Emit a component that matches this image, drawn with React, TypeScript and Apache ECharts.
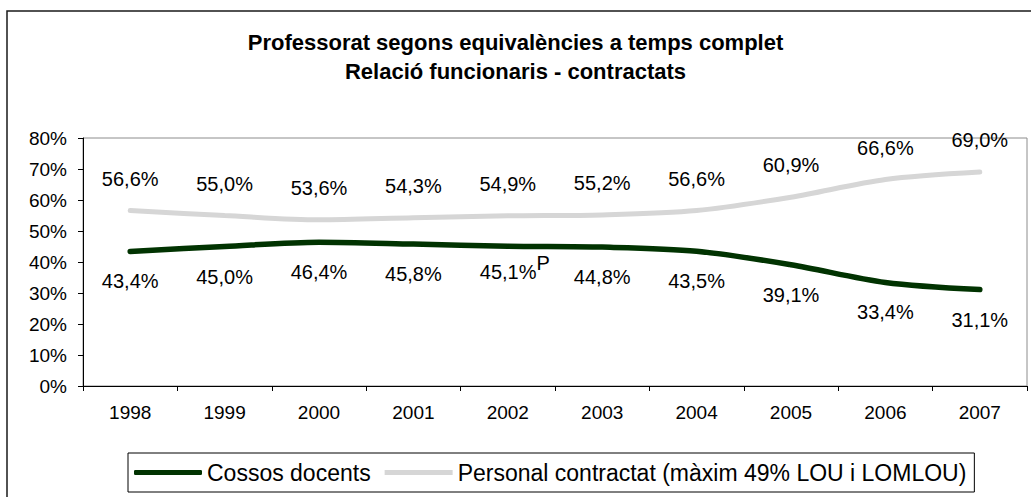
import React, { useEffect, useRef } from "react";
import * as echarts from "echarts";

const years = ["1998", "1999", "2000", "2001", "2002", "2003", "2004", "2005", "2006", "2007"];
const cossosDocents = [43.4, 45.0, 46.4, 45.8, 45.1, 44.8, 43.5, 39.1, 33.4, 31.1];
const personalContractat = [56.6, 55.0, 53.6, 54.3, 54.9, 55.2, 56.6, 60.9, 66.6, 69.0];
const yTicks = [0, 10, 20, 30, 40, 50, 60, 70, 80];
const titleLines = ["Professorat segons equivalències a temps complet", "Relació funcionaris - contractats"];
const seriesNames = ["Cossos docents", "Personal contractat (màxim 49% LOU i LOMLOU)"];
const provisionalIndex = 4; // 2002 marked "P"

const FONT = "'Liberation Sans', Arial, sans-serif";
const fmt = (v: number) => v.toFixed(1).replace(".", ",") + "%";
const GREEN = "#013301";
const GRAY = "#d6d6d6";

export default function App() {
  const ref = useRef<HTMLDivElement>(null);
  useEffect(() => {
    if (!ref.current) return;
    const chart = echarts.init(ref.current, undefined, { renderer: "svg" });
    chart.setOption({
      animation: false,
      backgroundColor: "#ffffff",
      textStyle: { fontFamily: FONT },
      title: {
        text: titleLines.join("\n"),
        left: "center",
        top: 23,
        textStyle: { fontFamily: FONT, fontSize: 22, fontWeight: "bold", color: "#000", lineHeight: 29 },
      },
      graphic: [
        {
          type: "rect",
          shape: { x: 7, y: 11, width: 1040, height: 500 },
          style: { fill: "none", stroke: "#1a1a1a", lineWidth: 1.5 },
          silent: true,
          z: -1,
        },
      ],
      legend: {
        left: 128,
        top: 453,
        orient: "horizontal",
        borderColor: "#000",
        borderWidth: 1,
        padding: [8, 8, 8, 6],
        itemGap: 14,
        itemWidth: 68,
        itemHeight: 5,
        textStyle: { fontFamily: FONT, fontSize: 23, color: "#000" },
        data: [
          { name: seriesNames[0], icon: "roundRect", itemStyle: { color: GREEN } },
          { name: seriesNames[1], icon: "rect", itemStyle: { color: GRAY } },
        ],
      },
      grid: {
        left: 83,
        top: 138,
        right: 4,
        bottom: 111,
        show: true,
        borderColor: "#8c8c8c",
        borderWidth: 1,
      },
      xAxis: {
        type: "category",
        data: years,
        boundaryGap: true,
        axisLine: { lineStyle: { color: "#000", width: 1 } },
        axisTick: { show: true, alignWithLabel: false, length: 5, lineStyle: { color: "#000" } },
        axisLabel: { fontFamily: FONT, fontSize: 19, color: "#000", margin: 17 },
        splitLine: { show: false },
      },
      yAxis: {
        type: "value",
        min: 0,
        max: 80,
        interval: 10,
        axisLine: { show: true, lineStyle: { color: "#000", width: 1 } },
        axisTick: { show: true, length: 5, lineStyle: { color: "#000" } },
        axisLabel: {
          fontFamily: FONT,
          fontSize: 19,
          color: "#000",
          margin: 16,
          formatter: (v: number) => (yTicks.includes(v) ? v + "%" : ""),
        },
        splitLine: { show: false },
      },
      series: [
        {
          name: seriesNames[0],
          type: "line",
          data: cossosDocents,
          smooth: 0.3,
          symbol: "circle",
          symbolSize: 2,
          showSymbol: true,
          lineStyle: { color: GREEN, width: 5.5, cap: "round" },
          itemStyle: { color: GREEN },
          z: 3,
          label: {
            show: true,
            position: "bottom",
            distance: 19,
            fontFamily: FONT,
            fontSize: 20,
            color: "#000",
            formatter: (p: any) =>
              p.dataIndex === provisionalIndex ? "{a|" + fmt(p.value) + "}{p|P}" : fmt(p.value),
            rich: {
              a: { fontFamily: FONT, fontSize: 20, color: "#000", lineHeight: 29, verticalAlign: "bottom" },
              p: { fontFamily: FONT, fontSize: 20, color: "#000", lineHeight: 20, verticalAlign: "top" },
            },
          },
          labelLayout: (params: any) =>
            params.dataIndex === provisionalIndex ? { dx: 7, dy: -13 } : {},
        },
        {
          name: seriesNames[1],
          type: "line",
          data: personalContractat,
          smooth: 0.3,
          symbol: "circle",
          symbolSize: 2,
          showSymbol: true,
          lineStyle: { color: GRAY, width: 5, cap: "round" },
          itemStyle: { color: GRAY },
          z: 2,
          label: {
            show: true,
            position: "top",
            distance: 21,
            fontFamily: FONT,
            fontSize: 20,
            color: "#000",
            formatter: (p: any) => fmt(p.value),
          },
        },
      ],
    });
    return () => chart.dispose();
  }, []);
  return (
    <div
      ref={ref}
      style={{ position: "fixed", left: 0, top: 0, width: 1031, height: 497, background: "#fff" }}
    />
  );
}
